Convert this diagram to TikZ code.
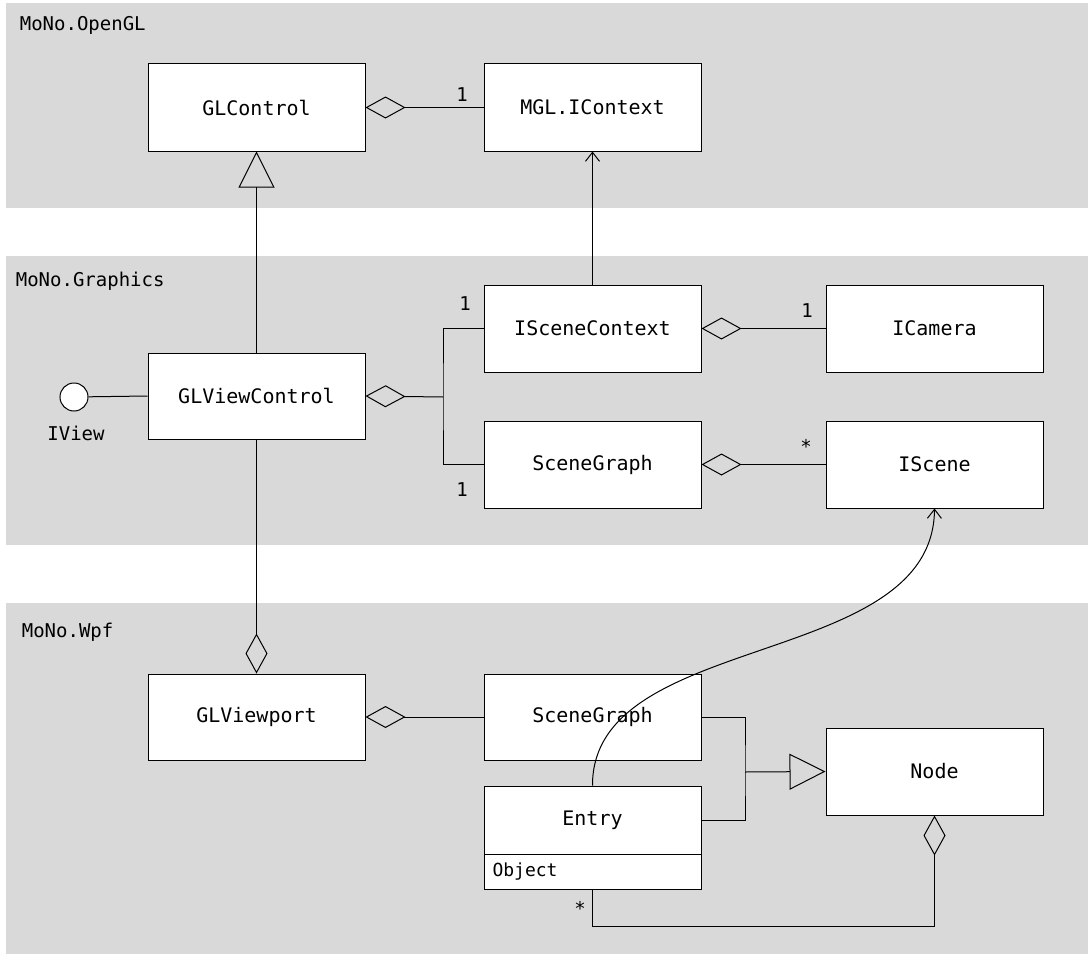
\documentclass[tikz,border=0pt]{standalone}
\usepackage{fontspec}
\setmainfont{DejaVu Sans Mono}
\usetikzlibrary{arrows.meta}
\begin{document}
\begin{tikzpicture}[x=1pt,y=-1pt,line width=1pt,
  cls/.style={draw,fill=white,minimum width=217pt,minimum height=87pt,inner sep=0pt,font=\fontsize{20}{23}\selectfont},
  band/.style={fill=black!15,draw=none},
  lbl/.style={font=\fontsize{19}{22}\selectfont},
  agg/.style={{Diamond[open,length=40pt,width=22pt,line width=1pt]}-},
  gen/.style={-{Triangle[open,length=36pt,width=36pt,line width=1pt]}},
  dep/.style={-{Straight Barb[length=9pt,width=14pt]}}]
\useasboundingbox (0,0) rectangle (1092,958);
\fill[white] (0,0) rectangle (1092,958);
\fill[band] (6,3) rectangle (1088,208);
\fill[band] (6,256) rectangle (1088,545);
\fill[band] (6,603) rectangle (1088,954);
\node[lbl,anchor=west] (p1) at (16,25) {MoNo.OpenGL};
\node[lbl,anchor=west] (p2) at (12,281) {MoNo.Graphics};
\node[lbl,anchor=west] (p3) at (18,632) {MoNo.Wpf};

\node[cls] (glc) at (256.5,107.5) {GLControl};
\node[cls] (mgl) at (592.5,107.5) {MGL.IContext};
\node[cls] (isc) at (592.5,328.5) {ISceneContext};
\node[cls] (cam) at (934.5,328.5) {ICamera};
\node[cls,minimum height=86pt] (glv) at (256.5,396) {GLViewControl};
\node[cls] (sg) at (592.5,464.5) {SceneGraph};
\node[cls] (isn) at (934.5,464.5) {IScene};
\node[cls,minimum height=86pt] (vp) at (256.5,717) {GLViewport};
\node[cls,minimum height=86pt] (sg2) at (592.5,717) {SceneGraph};
\node[cls] (nd) at (934.5,771.5) {Node};
\node[cls,minimum height=68pt] (en) at (592.5,820) {Entry};
\node[cls,minimum height=35pt,anchor=north,text width=200pt,font=\fontsize{18}{20}\selectfont] (ob) at (592.5,854) {Object};

\node[draw,circle,fill=white,minimum size=28pt,inner sep=0pt] (iv) at (74,397) {};
\node[lbl] (ivl) at (76,433) {IView};
\draw (iv) -- (glv.west);

\draw[agg] (glc.east) -- (mgl.west);
\node[lbl] at (462,95) {1};
\draw[gen] (glv.north) -- (glc.south);
\draw[dep] (isc.north) -- (mgl.south);
\coordinate (j) at (443,397);
\draw[agg] (glv.east) -- (j);
\draw (isc.west) -| (j) |- (sg.west);
\node[lbl] at (465,304) {1};
\node[lbl] at (462,490) {1};
\draw[agg] (isc.east) -- (cam.west);
\node[lbl] at (807,311) {1};
\draw[agg] (sg.east) -- (isn.west);
\node[lbl] at (806,446) {*};
\draw[agg] (vp.north) -- (glv.south);
\draw[agg] (vp.east) -- (sg2.west);
\coordinate (k) at (745,772);
\draw (sg2.east) -| (k) |- (en.east);
\draw[gen] (k) -- (nd.west);
\draw[dep] (en.north) .. controls (592,630) and (933,670) .. (isn.south);
\coordinate (b1) at (934.5,926);
\draw[agg] (nd.south) -- (b1) -| (ob.south);
\node[lbl] at (580,908) {*};
\end{tikzpicture}
\end{document}
